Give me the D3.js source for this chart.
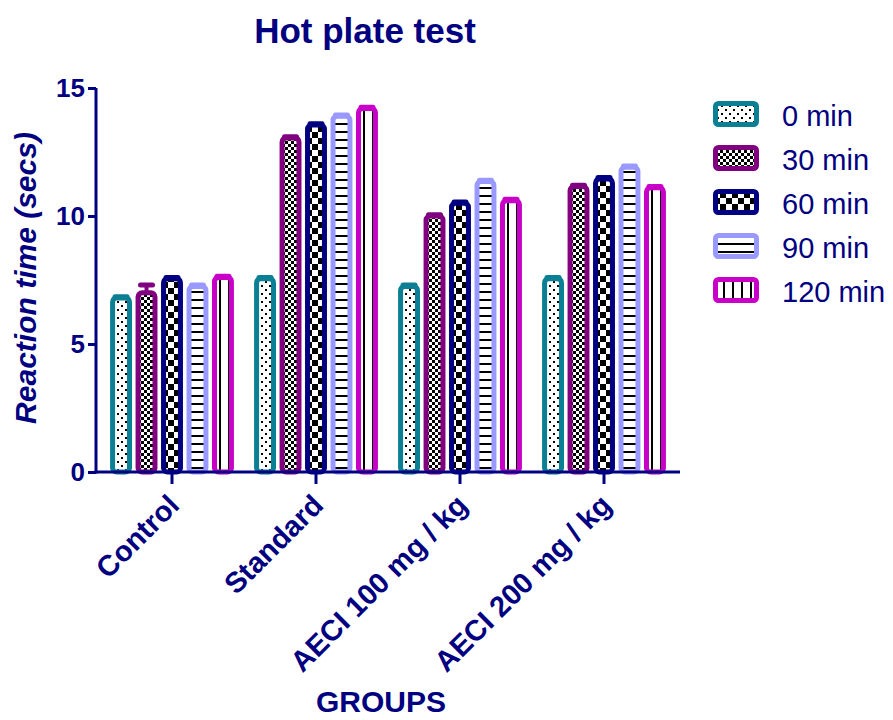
<!DOCTYPE html>
<html>
<head>
<meta charset="utf-8">
<script src="https://cdn.jsdelivr.net/npm/d3@7"></script>
<style>
  html, body { margin: 0; padding: 0; background: #fff; }
  svg { display: block; font-family: Arial, "Liberation Sans", sans-serif; }
</style>
</head>
<body>
<svg id="chart" width="893" height="720"></svg>
<script>
// ---- data ----
const groups = ["Control", "Standard", "AECI 100 mg / kg", "AECI 200 mg / kg"];
const seriesNames = ["0 min", "30 min", "60 min", "90 min", "120 min"];
const values0   = [6.8, 7.55, 7.25, 7.55];
const values30  = [7.0, 13.05, 10.0, 11.15];
const values60  = [7.55, 13.55, 10.5, 11.45];
const values90  = [7.25, 13.9, 11.35, 11.9];
const values120 = [7.6, 14.2, 10.6, 11.1];
const errors0   = [0.05, 0.05, 0.05, 0.05];
const errors30  = [0.3, 0.05, 0.05, 0.05];
const errors60  = [0.05, 0.05, 0.05, 0.05];
const errors90  = [0.05, 0.05, 0.05, 0.05];
const errors120 = [0.05, 0.05, 0.05, 0.05];
const yTicks = [0, 5, 10, 15];
const seriesColors = ["#0b7f93", "#800080", "#000080", "#9999ff", "#c800c8"];
const seriesPatterns = ["dots", "checkSmall", "checkLarge", "hlines", "vlines"];

const allValues = [values0, values30, values60, values90, values120];
const allErrors = [errors0, errors30, errors60, errors90, errors120];
const navy = "#000080";

const svg = d3.select("#chart");
const defs = svg.append("defs");

// patterns
function pat(id, w, h) {
  const p = defs.append("pattern").attr("id", id)
    .attr("patternUnits", "userSpaceOnUse").attr("width", w).attr("height", h);
  p.append("rect").attr("width", w).attr("height", h).attr("fill", "#fff");
  return p;
}
let p = pat("dots", 8, 8);
p.append("rect").attr("x", 1).attr("y", 1).attr("width", 2).attr("height", 2).attr("fill", "#000");
p.append("rect").attr("x", 5).attr("y", 5).attr("width", 2).attr("height", 2).attr("fill", "#000");
p = pat("checkSmall", 6, 6);
p.append("rect").attr("x", 0).attr("y", 0).attr("width", 3).attr("height", 3).attr("fill", "#000");
p.append("rect").attr("x", 3).attr("y", 3).attr("width", 3).attr("height", 3).attr("fill", "#000");
p = pat("checkLarge", 12, 12);
p.append("rect").attr("x", 0).attr("y", 0).attr("width", 6).attr("height", 6).attr("fill", "#000");
p.append("rect").attr("x", 6).attr("y", 6).attr("width", 6).attr("height", 6).attr("fill", "#000");
p = pat("hlines", 8, 8);
p.append("rect").attr("x", 0).attr("y", 3).attr("width", 8).attr("height", 2).attr("fill", "#000");
p = pat("vlines", 9, 9);
p.append("rect").attr("x", 3).attr("y", 0).attr("width", 2).attr("height", 9).attr("fill", "#000");

// scales
const x0 = d3.scaleBand().domain(groups).range([100, 676]).paddingInner(0.14).paddingOuter(0.07);
const x1 = d3.scaleBand().domain(seriesNames).range([0, x0.bandwidth()]).paddingInner(0.14);
const y = d3.scaleLinear().domain([0, 15]).range([472, 88]);

const sw = 5;

// bars
seriesNames.forEach((s, si) => {
  const g = svg.append("g");
  const data = groups.map((gr, gi) => ({ gr, v: allValues[si][gi], e: allErrors[si][gi] }));
  // error bars
  g.selectAll("line.err").data(data).join("line")
    .attr("x1", d => x0(d.gr) + x1(s) + x1.bandwidth() / 2)
    .attr("x2", d => x0(d.gr) + x1(s) + x1.bandwidth() / 2)
    .attr("y1", d => y(d.v)).attr("y2", d => y(d.v + d.e))
    .attr("stroke", seriesColors[si]).attr("stroke-width", 4);
  g.selectAll("line.cap").data(data).join("line")
    .attr("x1", d => x0(d.gr) + x1(s) + x1.bandwidth() / 2 - 6)
    .attr("x2", d => x0(d.gr) + x1(s) + x1.bandwidth() / 2 + 6)
    .attr("y1", d => y(d.v + d.e)).attr("y2", d => y(d.v + d.e))
    .attr("stroke", seriesColors[si]).attr("stroke-width", 5).attr("stroke-linecap", "round");
  g.selectAll("rect").data(data).join("rect")
    .attr("x", d => x0(d.gr) + x1(s) + sw / 2)
    .attr("y", d => y(d.v))
    .attr("width", x1.bandwidth() - sw)
    .attr("height", d => y(0) - y(d.v))
    .attr("rx", 4)
    .attr("fill", `url(#${seriesPatterns[si]})`)
    .attr("stroke", seriesColors[si])
    .attr("stroke-width", sw);
});

// axes
const yAxis = svg.append("g").attr("transform", "translate(96,0)")
  .call(d3.axisLeft(y).tickValues(yTicks).tickSize(8).tickPadding(3).tickFormat(d3.format("d")));
yAxis.select(".domain").attr("d", `M0,${y(15)}V${y(0) + 1.5}`);
yAxis.selectAll("path, line").attr("stroke", navy).attr("stroke-width", 3);
yAxis.selectAll("text").attr("fill", navy).attr("font-size", 26).attr("font-weight", "bold")
  .attr("font-family", "Arial, 'Liberation Sans', sans-serif");

const xAxis = svg.append("g").attr("transform", "translate(0,472)")
  .call(d3.axisBottom(x0).tickSize(12).tickSizeOuter(0).tickFormat(""));
xAxis.select(".domain").attr("d", "M94.5,0H680");
xAxis.selectAll("path, line").attr("stroke", navy).attr("stroke-width", 3);

// x tick labels
svg.append("g").selectAll("text").data(groups).join("text")
  .attr("transform", d => `translate(${x0(d) + x0.bandwidth() / 2 + 9},${507}) rotate(-45)`)
  .attr("text-anchor", "end")
  .attr("fill", navy).attr("font-size", 29).attr("font-weight", "bold")
  .text(d => d);

// titles
svg.append("text").attr("x", 365).attr("y", 43).attr("text-anchor", "middle")
  .attr("fill", navy).attr("font-size", 35).attr("font-weight", "bold").text("Hot plate test");
svg.append("text").attr("transform", "translate(36,278) rotate(-90)").attr("text-anchor", "middle")
  .attr("fill", navy).attr("font-size", 30).attr("font-weight", "bold").attr("font-style", "italic")
  .text("Reaction time (secs)");
svg.append("text").attr("x", 381).attr("y", 712).attr("text-anchor", "middle")
  .attr("fill", navy).attr("font-size", 30).attr("font-weight", "bold").text("GROUPS");

// legend
const leg = svg.append("g");
seriesNames.forEach((s, i) => {
  const cy = 114 + i * 44;
  leg.append("rect").attr("x", 715.5).attr("y", cy - 10.5).attr("width", 41).attr("height", 21)
    .attr("rx", 3).attr("fill", `url(#${seriesPatterns[i]})`)
    .attr("stroke", seriesColors[i]).attr("stroke-width", sw);
  leg.append("text").attr("x", 782).attr("y", cy + 12).attr("fill", navy)
    .attr("font-size", 29).text(s);
});
</script>
</body>
</html>
